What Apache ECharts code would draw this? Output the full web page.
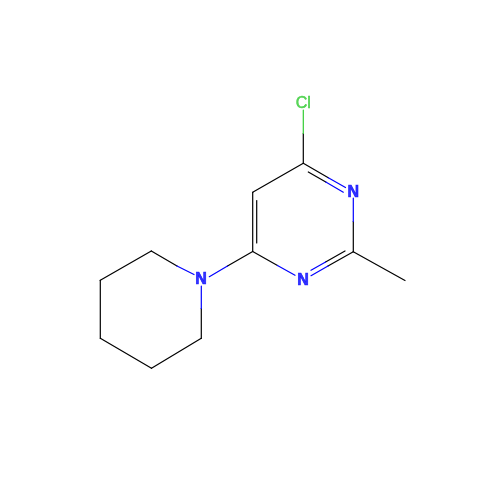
<!DOCTYPE html>
<html>
<head>
<meta charset="utf-8">
<style>html,body{margin:0;padding:0;background:#fff}#c{width:500px;height:500px}</style>
<script src="https://cdn.jsdelivr.net/npm/echarts@6/dist/echarts.min.js"></script>
</head>
<body>
<div id="c"></div>
<script>
// Each bond piece: [x1, y1, x2, y2]
var blackBonds = [
  [303.3,163.3,303.3,133.5],
  [303.3,163.3,328.3,177.8],
  [308.3,172,325.8,182.1],
  [303.3,163.3,252.7,192.3],
  [252.7,192.3,252.7,251.5],
  [256.7,200.5,256.7,243],
  [252.7,251.5,227.5,266],
  [252.7,251.5,277.5,265.5],
  [353.3,251.7,353.3,221.5],
  [353.3,251.7,328,266],
  [345,251,325.6,261.9],
  [353.3,251.7,405,280.5],
  [151.3,251,177,266],
  [151.3,251,100.3,280.3],
  [100.3,280.3,100.3,338.3],
  [100.3,338.3,151.5,368.3],
  [151.5,368.3,201.3,338.3],
  [201.3,338.3,201.3,308.5]
];
var blueBonds = [
  [328.3,177.8,345.5,187.5],
  [325.8,182.1,343.3,192.2],
  [353.3,221.5,353.3,198],
  [328,266,311,275.7],
  [325.6,261.9,311,270.3],
  [277.5,265.5,295,275.3],
  [227.5,266,209.3,276.7],
  [177,266,194,274.5],
  [201.3,308.5,201.3,286]
];
var greenBonds = [
  [303.3,133.5,303.3,110]
];
var blueLabels = [
  [353.3,192.5,'N'],
  [303,280.5,'N'],
  [201,280,'N']
];
var greenLabels = [
  [303.3,103.5,'Cl']
];
var BLUE = '#0000FF', GREEN = '#33CC33', BLACK = '#000000';

function bondSeries(list, color){
  return list.map(function(b){
    return {
      type:'line', silent:true, symbol:'none', animation:false,
      lineStyle:{color:color,width:1.2,cap:'round'},
      data:[[b[0],b[1]],[b[2],b[3]]]
    };
  });
}
function labelSeries(list, color, weight, border){
  return {
    type:'scatter', silent:true, symbolSize:0, animation:false,
    label:{show:true,position:'inside',color:color,fontFamily:'Liberation Sans',fontSize:16,fontWeight:weight,
      textBorderColor:color,textBorderWidth:border,
      formatter:function(p){return p.value[2];}},
    data:list
  };
}
var chart = echarts.init(document.getElementById('c'),null,{renderer:'canvas'});
chart.setOption({
  backgroundColor:'#ffffff',
  animation:false,
  grid:{left:0,right:0,top:0,bottom:0},
  xAxis:{type:'value',min:0,max:500,show:false},
  yAxis:{type:'value',min:0,max:500,inverse:true,show:false},
  series:[].concat(
    bondSeries(blackBonds,BLACK),
    bondSeries(blueBonds,BLUE),
    bondSeries(greenBonds,GREEN),
    [labelSeries(blueLabels,BLUE,'bold',0.7),labelSeries(greenLabels,GREEN,'normal',0.5)]
  )
});
</script>
</body>
</html>
